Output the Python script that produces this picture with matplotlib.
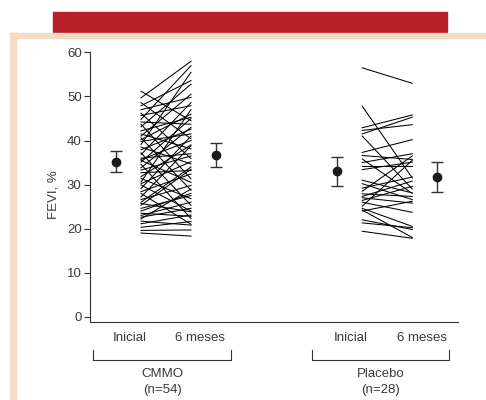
import matplotlib.pyplot as plt
from matplotlib.patches import Rectangle

plt.rcParams['font.family'] = ['Liberation Sans', 'DejaVu Sans']

# individual FEVI values (%), initial -> 6 months
cmmo_ini = [51.2, 49.7, 48.6, 47.9, 47.0, 46.2, 45.7, 44.8, 44.2, 43.7,
            43.1, 42.2, 41.5, 41.0, 40.6, 40.2, 39.8, 39.1, 38.5, 37.9,
            37.2, 36.8, 36.0, 35.7, 35.5, 35.1, 34.6, 33.8, 33.3, 32.7,
            31.8, 31.4, 30.6, 30.2, 29.9, 29.1, 28.4, 28.0, 27.2, 26.6,
            26.0, 25.7, 25.3, 24.6, 24.0, 23.5, 23.0, 22.6, 22.2, 21.7,
            21.1, 20.3, 19.6, 19.0]
cmmo_6m = [44.5, 58.0, 40.4, 53.6, 49.8, 35.9, 47.9, 57.0, 43.7, 31.3,
           52.8, 45.3, 38.1, 50.5, 28.7, 46.0, 41.5, 55.5, 34.7, 42.6,
           25.3, 48.6, 37.0, 40.0, 30.5, 45.0, 22.3, 43.0, 36.5, 33.2,
           39.0, 26.8, 47.0, 35.2, 24.0, 41.0, 32.4, 21.0, 38.8, 29.8,
           34.0, 23.8, 33.5, 27.5, 28.0, 22.8, 26.0, 24.6, 29.0, 20.8,
           23.1, 21.6, 19.7, 18.3]
plac_ini = [56.5, 47.8, 42.9, 42.3, 41.5, 41.0, 37.3, 36.6, 35.8, 35.0,
            34.3, 33.4, 30.2, 29.2, 28.5, 27.9, 27.3, 27.0, 26.4, 25.1,
            24.6, 24.2, 24.0, 22.0, 21.3, 19.4, 26.0, 31.0]
plac_6m = [53.0, 31.5, 45.8, 43.6, 45.3, 29.0, 40.2, 35.7, 28.0, 37.0,
           34.3, 35.1, 26.6, 31.7, 36.5, 27.3, 30.8, 25.8, 29.6, 35.5,
           20.5, 18.0, 26.2, 19.8, 20.2, 17.8, 23.7, 28.1]

# group means and error bars
means = [35.2, 36.7, 33.0, 31.7]
errs = [2.4, 2.8, 3.3, 3.4]
mean_x = [0, 4, 8.85, 12.85]
line_x = [(1, 3), (9.85, 11.85)]

tick_pos = [0.56, 3.36, 9.4, 12.24]
tick_lab = ['Inicial', '6 meses', 'Inicial', '6 meses']
groups = ['CMMO\n(n=54)', 'Placebo\n(n=28)']
bracket = [(-0.92, 4.6), (7.84, 13.32)]

txt = '#3a3a3a'
fig = plt.figure(figsize=(4.86, 4.0), dpi=100)

# page decoration
fig.patches.append(Rectangle((53/486, 1-32/400), 394/486, 20/400,
                             transform=fig.transFigure, color='#BA2027', zorder=0))
fig.patches.append(Rectangle((10/486, 1-38/400), 476/486, 5/400,
                             transform=fig.transFigure, color='#F4DCC6', zorder=0))
fig.patches.append(Rectangle((10/486, 0), 5.5/486, 1-33/400,
                             transform=fig.transFigure, color='#F4DCC6', zorder=0))

ax = fig.add_axes([90/486, 1-322/400, 368/486, 270/400])
ax.set_facecolor('none')

for (x0, x1), a, b in zip(line_x, [cmmo_ini, plac_ini], [cmmo_6m, plac_6m]):
    for s, e in zip(a, b):
        ax.plot([x0, x1], [s, e], color='black', lw=0.75)

ax.errorbar(mean_x, means, yerr=errs, fmt='o', color='#1a1a1a', ms=6,
            ecolor='#333333', elinewidth=1, capsize=4, capthick=1)

ax.set_xlim(-1.04, 13.68)
ax.set_ylim(-1.2, 60.1)
ax.set_yticks(range(0, 61, 10))
ax.set_xticks(tick_pos)
ax.set_xticklabels(tick_lab)
ax.tick_params(axis='x', length=0, pad=7, labelsize=9.5, labelcolor=txt)
ax.tick_params(axis='y', length=4, width=0.8, labelsize=9.5, labelcolor=txt,
               color='#333333', pad=2)
for s in ['top', 'right']:
    ax.spines[s].set_visible(False)
for s in ['left', 'bottom']:
    ax.spines[s].set_color('#333333')
    ax.spines[s].set_linewidth(0.8)
ax.spines['left'].set_bounds(-1.2, 60)
ax.set_ylabel('FEVI, %', fontsize=9.5, color=txt)
ax.yaxis.set_label_coords(-0.083, 0.47)

for (b0, b1), g in zip(bracket, groups):
    ax.plot([b0, b0, b1, b1], [-7.5, -9.8, -9.8, -7.5], color='#333333',
            lw=0.8, clip_on=False)
    ax.text((b0 + b1) / 2, -11.6, g, ha='center', va='top', fontsize=9.5,
            color=txt, linespacing=1.45)

fig.savefig('out.png', dpi=100)
